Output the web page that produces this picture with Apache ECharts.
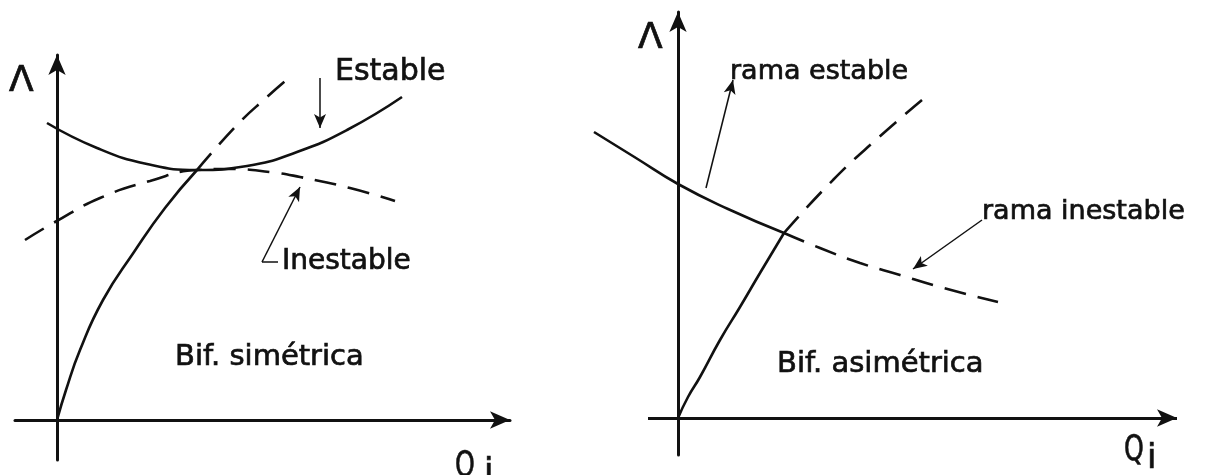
<!DOCTYPE html>
<html>
<head>
<meta charset="utf-8">
<script src="https://cdn.jsdelivr.net/npm/echarts@6/dist/echarts.min.js"></script>
<style>
html, body { margin: 0; background: #fff; }
#chart { width: 1205px; height: 475px; }
</style>
</head>
<body>
<div id="chart"></div>
<script>
// (Q, Λ) points, origin at the axes' crossing

// left: bifurcacion simetrica
var symStable = [[-1.0, 29.7], [4, 27.2], [9, 25.6], [14, 25.0], [19, 25.4], [24, 26.8], [29, 29.0], [34.5, 32.3]];
var symUnstable = [[-3.2, 18.0], [-0.2, 19.8], [4.3, 22.2], [9.3, 23.9], [14, 25.0], [17.3, 25.1], [21.3, 24.8], [24.3, 24.3], [29.3, 23.2], [33.8, 21.9]];
var symPrimary = [[0, 0], [0.9, 3.0], [2.3, 7.0], [4.6, 12.0], [7.7, 16.8], [10.8, 21.2], [14, 25.0]];
var symPrimaryUp = [[14, 25.0], [18, 29.5], [21, 32.3], [23.3, 34.3]];

// right: bifurcacion asimetrica
var asymStable = [[-8.4, 28.6], [-4.2, 26.0], [0, 23.4], [5.0, 20.9], [10.6, 18.5]];
var asymUnstableDown = [[10.6, 18.5], [14.2, 17.0], [18.2, 15.5], [22.2, 14.3], [26.2, 13.1], [32.0, 11.6]];
var asymPrimary = [[0, 0], [1.0, 2.1], [2.2, 4.1], [4.2, 7.8], [6.2, 11.1], [8.2, 14.5], [10.6, 18.5]];
var asymUnstableUp = [[10.6, 18.5], [15.5, 23.8], [20.0, 28.0], [24.4, 31.8]];

// axis ends (right panel horizontal axis starts left of the curve)
var asymQAxis = [[-3.0, 0], [49.9, 0]];

// annotation arrows: [from, to]
var symArrows = [
    [[26.3, 34.2], [26.3, 29.2]],
    [[20.5, 15.8], [24.3, 23.3]]
];
var symStub = [[22.1, 15.8], [20.5, 15.8]];
var asymArrows = [
    [[2.8, 23.0], [5.5, 33.8]],
    [[30.4, 19.8], [23.5, 14.9]]
];

var ink = '#111';
var fontFam = 'DejaVu Sans';

function axis(min, max, idx, hideLine) {
    return {
        type: 'value', gridIndex: idx, min: min, max: max,
        axisLine: {
            show: !hideLine,
            onZero: true,
            symbol: ['none', 'arrow'],
            symbolSize: [13, 20],
            lineStyle: { color: ink, width: 3 }
        },
        axisTick: { show: false },
        axisLabel: { show: false },
        splitLine: { show: false }
    };
}

function curve(data, idx, dashed) {
    return {
        type: 'line', xAxisIndex: idx, yAxisIndex: idx,
        data: data, smooth: 0.5, smoothConstraint: false,
        showSymbol: false, clip: false, silent: true,
        lineStyle: { color: ink, width: 2.6, type: dashed ? [22, 12] : 'solid' }
    };
}

function arrowLines(list) {
    return list.map(function (a) {
        return [{ coord: a[0], symbol: 'none' }, { coord: a[1], symbol: 'arrow' }];
    });
}

function txt(s, x, y, size, extra) {
    var el = {
        type: 'text', x: x, y: y,
        style: {
            text: s, fill: ink, stroke: ink, lineWidth: 0.7,
            font: size + 'px "' + fontFam + '"', verticalAlign: 'middle'
        }
    };
    if (extra) Object.assign(el, extra);
    return el;
}

var markStyle = {
    silent: true, symbolSize: [9, 14], label: { show: false },
    lineStyle: { color: ink, width: 1.5, type: 'solid' }
};

var left0 = curve(symStable, 0, false);
left0.markLine = Object.assign({}, markStyle, {
    data: arrowLines(symArrows).concat([[{ coord: symStub[0], symbol: 'none' }, { coord: symStub[1], symbol: 'none' }]])
});
var right0 = curve(asymStable, 1, false);
right0.markLine = Object.assign({}, markStyle, { data: arrowLines(asymArrows) });
var rightAxis = curve(asymPrimary, 1, false);
rightAxis.markLine = {
    silent: true, symbolSize: [13, 20], label: { show: false },
    lineStyle: { color: ink, width: 3, type: 'solid' },
    data: [[{ coord: asymQAxis[0], symbol: 'none' }, { coord: asymQAxis[1], symbol: 'arrow' }]]
};

var chart = echarts.init(document.getElementById('chart'));
chart.setOption({
    animation: false,
    backgroundColor: '#fff',
    grid: [
        { left: 15, top: 55, width: 495, height: 405 },
        { left: 590, top: 12, width: 587, height: 443 }
    ],
    xAxis: [axis(-4.2, 45.3, 0), axis(-8.8, 49.9, 1, true)],
    yAxis: [axis(-4.0, 36.5, 0), axis(-3.7, 40.6, 1)],
    series: [
        left0,
        curve(symUnstable, 0, true),
        curve(symPrimary, 0, false),
        curve(symPrimaryUp, 0, true),
        right0,
        curve(asymUnstableDown, 1, true),
        rightAxis,
        curve(asymUnstableUp, 1, true)
    ],
    graphic: [
        txt('Λ', 9, 82, 36),
        txt('Estable', 335, 72, 30),
        txt('Inestable', 282, 262, 28),
        txt('Bif. simétrica', 175, 357, 29),
        txt('Q', 455, 467, 36, { scaleX: 0.7 }),
        txt('i', 484, 473, 34),
        txt('Λ', 638, 39, 36),
        txt('rama estable', 730, 72, 27),
        txt('rama inestable', 982, 212, 27),
        txt('Bif. asimétrica', 777, 364, 29),
        txt('Q', 1124, 451, 36, { scaleX: 0.7 }),
        txt('i', 1147, 459, 34)
    ]
});
</script>
</body>
</html>
